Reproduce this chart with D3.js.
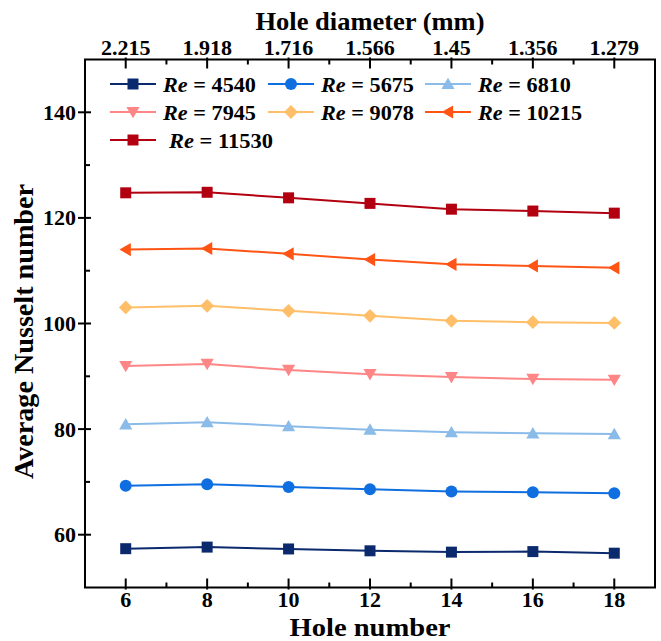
<!DOCTYPE html>
<html><head><meta charset="utf-8">
<script src="https://cdn.jsdelivr.net/npm/d3@7"></script>
<style>body{margin:0;background:#fff}svg{display:block}text{font-family:"Liberation Serif","Times New Roman",serif;font-weight:bold}</style>
</head><body><svg id="c" width="661" height="641"></svg>
<script>
const holeNumbers = [6, 8, 10, 12, 14, 16, 18];
const holeDiameters = ["2.215", "1.918", "1.716", "1.566", "1.45", "1.356", "1.279"];
const reynolds = ["4540", "5675", "6810", "7945", "9078", "10215", "11530"];
const nu4540  = [57.35, 57.65, 57.3, 56.95, 56.7, 56.8, 56.5];
const nu5675  = [69.25, 69.55, 69.05, 68.6, 68.2, 68.05, 67.85];
const nu6810  = [80.9, 81.3, 80.55, 79.9, 79.4, 79.2, 79.05];
const nu7945  = [91.95, 92.35, 91.2, 90.4, 89.85, 89.5, 89.35];
const nu9078  = [103.05, 103.35, 102.4, 101.45, 100.5, 100.25, 100.1];
const nu10215 = [114.0, 114.2, 113.2, 112.1, 111.2, 110.9, 110.55];
const nu11530 = [124.75, 124.85, 123.8, 122.75, 121.65, 121.3, 120.9];
const yTicks = [60, 80, 100, 120, 140];

const seriesValues = [nu4540, nu5675, nu6810, nu7945, nu9078, nu10215, nu11530];
const colors = ["#0b2a6e", "#0f6fe0", "#8bbbe8", "#ff8686", "#ffbf69", "#ff5414", "#b30010"];
const shapes = ["square", "circle", "triangle", "triangleDown", "diamond", "triangleLeft", "square"];

const svg = d3.select("#c");
const L = 85, R = 655, T = 59.5, B = 587.5;
const x = d3.scaleLinear().domain([5, 19]).range([L, R]);
const y = d3.scaleLinear().domain([50, 150]).range([B, T]);

function markerPath(shape, s) {
  const h = s / 2;
  switch (shape) {
    case "square": return `M${-h},${-h}H${h}V${h}H${-h}Z`;
    case "circle": return d3.symbol(d3.symbolCircle, Math.PI * h * h)();
    case "triangle": return `M0,${-h*1.05}L${h*1.1},${h*0.85}L${-h*1.1},${h*0.85}Z`;
    case "triangleDown": return `M0,${h*1.05}L${h*1.1},${-h*0.85}L${-h*1.1},${-h*0.85}Z`;
    case "triangleLeft": return `M${-h*1.05},0L${h*0.85},${-h*1.1}L${h*0.85},${h*1.1}Z`;
    case "diamond": return `M0,${-h*1.15}L${h*1.15},0L0,${h*1.15}L${-h*1.15},0Z`;
  }
}
const mSize = [11, 12, 12, 12, 12, 12, 11];

// series
const line = d3.line().x((d, i) => x(holeNumbers[i])).y(d => y(d));
const g = svg.append("g");
seriesValues.forEach((vals, k) => {
  g.append("path").attr("d", line(vals)).attr("fill", "none")
    .attr("stroke", colors[k]).attr("stroke-width", 2);
  g.selectAll(null).data(vals).enter().append("path")
    .attr("d", markerPath(shapes[k], mSize[k]))
    .attr("transform", (d, i) => `translate(${x(holeNumbers[i])},${y(d)})`)
    .attr("fill", colors[k]);
});

// frame
svg.append("rect").attr("x", L).attr("y", T).attr("width", R - L).attr("height", B - T)
  .attr("fill", "none").attr("stroke", "#000").attr("stroke-width", 2);

// bottom axis
const minorX = [7, 9, 11, 13, 15, 17];
const ax = svg.append("g");
holeNumbers.forEach(v => ax.append("line").attr("x1", x(v)).attr("x2", x(v)).attr("y1", B + 2).attr("y2", B - 9).attr("stroke", "#000").attr("stroke-width", 2));
minorX.forEach(v => ax.append("line").attr("x1", x(v)).attr("x2", x(v)).attr("y1", B).attr("y2", B - 5).attr("stroke", "#000").attr("stroke-width", 2));
ax.selectAll(null).data(holeNumbers).enter().append("text")
  .attr("x", d => x(d)).attr("y", B + 19.5).attr("text-anchor", "middle").attr("font-size", 22).text(d => d);
svg.append("text").attr("x", (L + R) / 2).attr("y", 635.5).attr("text-anchor", "middle").attr("font-size", 25)
  .attr("textLength", 161).attr("lengthAdjust", "spacingAndGlyphs").text("Hole number");

// top axis
holeNumbers.forEach(v => ax.append("line").attr("x1", x(v)).attr("x2", x(v)).attr("y1", T - 2).attr("y2", T + 9).attr("stroke", "#000").attr("stroke-width", 2));
minorX.forEach(v => ax.append("line").attr("x1", x(v)).attr("x2", x(v)).attr("y1", T).attr("y2", T + 5).attr("stroke", "#000").attr("stroke-width", 2));
ax.selectAll(null).data(holeNumbers).enter().append("text")
  .attr("x", d => x(d)).attr("y", T - 5).attr("text-anchor", "middle").attr("font-size", 22)
  .text((d, i) => holeDiameters[i]);
svg.append("text").attr("x", (L + R) / 2).attr("y", 30).attr("text-anchor", "middle").attr("font-size", 25)
  .attr("textLength", 229).attr("lengthAdjust", "spacingAndGlyphs").text("Hole diameter (mm)");

// left axis
const minorY = [70, 90, 110, 130];
yTicks.forEach(v => ax.append("line").attr("x1", L - 7).attr("x2", L + 6).attr("y1", y(v)).attr("y2", y(v)).attr("stroke", "#000").attr("stroke-width", 2));
minorY.forEach(v => ax.append("line").attr("x1", L).attr("x2", L + 5).attr("y1", y(v)).attr("y2", y(v)).attr("stroke", "#000").attr("stroke-width", 2));
ax.selectAll(null).data(yTicks).enter().append("text")
  .attr("x", L - 9).attr("y", d => y(d) + 7.5).attr("text-anchor", "end").attr("font-size", 22).text(d => d);
svg.append("text").attr("transform", `translate(33,${(T + B) / 2 + 8}) rotate(-90)`)
  .attr("text-anchor", "middle").attr("font-size", 27)
  .attr("textLength", 295).attr("lengthAdjust", "spacingAndGlyphs").text("Average Nusselt number");

// legend
const colX = [110, 268, 425];
const rowY = [84, 112, 140];
reynolds.forEach((re, k) => {
  const c = k % 3, r = Math.floor(k / 3);
  const lx = colX[c], ly = rowY[r];
  const lg = svg.append("g");
  lg.append("line").attr("x1", lx).attr("x2", lx + 46).attr("y1", ly).attr("y2", ly)
    .attr("stroke", colors[k]).attr("stroke-width", 2);
  lg.append("path").attr("d", markerPath(shapes[k], mSize[k]))
    .attr("transform", `translate(${lx + 23},${ly})`).attr("fill", colors[k]);
  const t = lg.append("text").attr("x", lx + 53 + (k === 6 ? 6 : 0)).attr("y", ly + 7.5).attr("font-size", 22)
    .attr("textLength", re.length > 4 ? 104 : 93).attr("lengthAdjust", "spacingAndGlyphs");
  t.append("tspan").attr("font-style", "italic").text("Re");
  t.append("tspan").text(" = " + re);
});
</script></body></html>
